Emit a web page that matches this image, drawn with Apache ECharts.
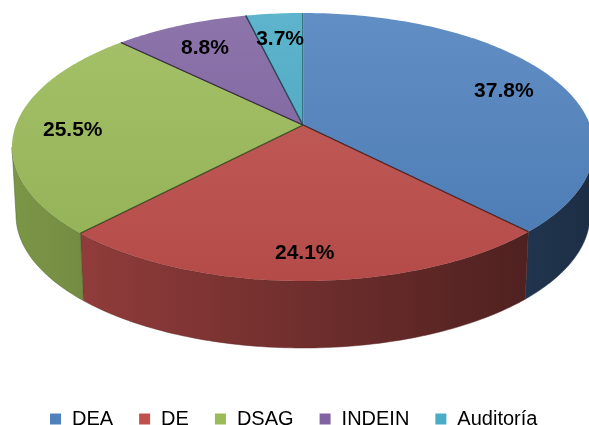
<!DOCTYPE html>
<html>
<head>
<meta charset="utf-8">
<script src="https://cdn.jsdelivr.net/npm/echarts@6/dist/echarts.min.js"></script>
<style>html,body{margin:0;padding:0;background:#fff}#c{width:589px;height:425px}</style>
</head>
<body>
<div id="c"></div>
<script>
const categories = ['DEA', 'DE', 'DSAG', 'INDEIN', 'Auditoría'];
const values = [37.8, 24.1, 25.5, 8.8, 3.7];
const colors = ['#4f81bd', '#c0504d', '#9bbb59', '#8064a2', '#4bacc6'];

// 3D pie geometry (perspective-projected disk)
const G = { cx: 303, cy: 147, rx: 291, ry: 134, t: 0.164,
            bcx: 303, bcy: 215, brx: 287, bry: 133, labelF: 0.8, labelDy: 3 };

function hexToRgb(h) { const n = parseInt(h.slice(1), 16); return [(n >> 16) & 255, (n >> 8) & 255, n & 255]; }
function shade(h, f) { const c = hexToRgb(h).map(v => Math.max(0, Math.min(255, Math.round(v * f)))); return 'rgb(' + c.join(',') + ')'; }
function tint(h, f) { const c = hexToRgb(h).map(v => Math.round(v + (255 - v) * f)); return 'rgb(' + c.join(',') + ')'; }

function norm(r, phi) {
  const x = r * Math.sin(phi), y = r * Math.cos(phi);
  const d = 1 + G.t * y;
  return [x * Math.sqrt(1 - G.t * G.t) / d, (y + G.t) / d];
}
function topPt(n) { return [G.cx + G.rx * n[0], G.cy - G.ry * n[1]]; }
function botPt(n) { return [G.bcx + G.brx * n[0], G.bcy - G.bry * n[1]]; }

const total = values.reduce((a, b) => a + b, 0);
const starts = []; let acc = 0;
values.forEach(v => { starts.push(acc / total * Math.PI * 2); acc += v; });

function arc(a, b) {
  const pts = []; const n = Math.max(2, Math.ceil((b - a) / (Math.PI / 180)));
  for (let k = 0; k <= n; k++) pts.push(norm(1, a + (b - a) * k / n));
  return pts;
}

function renderItem(params, api) {
  const i = params.seriesIndex;
  const a = starts[i], b = starts[i] + values[i] / total * Math.PI * 2;
  const base = colors[i];
  const children = [];
  const apex = topPt(norm(0, 0));
  // side wall (front half only)
  const f0 = Math.acos(-G.t), f1 = Math.PI * 2 - f0;
  const sa = Math.max(a, f0), sb = Math.min(b, f1);
  if (sb > sa) {
    const arcPts = arc(sa, sb);
    const pts = arcPts.map(topPt).concat(arcPts.slice().reverse().map(botPt));
    children.push({
      type: 'polygon', shape: { points: pts },
      style: {
        fill: new echarts.graphic.LinearGradient(12, 0, 594, 0, [
          { offset: 0, color: shade(base, 0.8) }, { offset: 1, color: shade(base, 0.36) }], true),
        stroke: shade(base, 0.5), lineWidth: 0.5
      }
    });
  }
  // top face
  const topPts = [apex].concat(arc(a, b).map(topPt));
  children.push({
    type: 'polygon', shape: { points: topPts },
    style: {
      fill: new echarts.graphic.LinearGradient(0, 13, 0, 282, [
        { offset: 0, color: tint(base, 0.1) }, { offset: 1, color: shade(base, 0.94) }], true)
    }
  });
  const pa = topPt(norm(1, a)), pb = topPt(norm(1, b));
  children.push({ type: 'line', shape: { x1: apex[0], y1: apex[1], x2: pb[0], y2: pb[1] },
    style: { stroke: shade(base, 0.45), lineWidth: 1.2 } });
  children.push({ type: 'line', shape: { x1: apex[0], y1: apex[1], x2: pa[0], y2: pa[1] },
    style: { stroke: i === 0 ? '#ffffff' : shade(base, 0.45), lineWidth: i === 0 ? 2 : 1.2 } });
  // label
  const mid = topPt(norm(1, (a + b) / 2));
  const lx = apex[0] + G.labelF * (mid[0] - apex[0]);
  const ly = apex[1] + G.labelF * (mid[1] - apex[1]) + G.labelDy;
  children.push({
    type: 'text', z2: 100,
    style: { text: values[i].toFixed(1) + '%', x: lx, y: ly, align: 'center', verticalAlign: 'middle',
      textAlign: 'center', textVerticalAlign: 'middle',
      font: 'bold 21px "Liberation Sans", Arial, sans-serif', fill: '#000' }
  });
  return { type: 'group', children };
}

const series = categories.map((name, i) => ({
  type: 'custom', name, coordinateSystem: 'none', data: [[i]],
  renderItem, itemStyle: { color: colors[i] }, z: 2 + i, silent: true
}));

const chart = echarts.init(document.getElementById('c'), null, { renderer: 'canvas' });
chart.setOption({
  animation: false,
  backgroundColor: '#ffffff',
  legend: {
    data: categories, left: 45, top: 404, icon: 'rect', itemWidth: 11, itemHeight: 11, itemGap: 26,
    textStyle: { fontSize: 20, color: '#000', fontFamily: '"Liberation Sans", Arial, sans-serif', padding: [0, 0, 0, 6] }
  },
  series
});
</script>
</body>
</html>
